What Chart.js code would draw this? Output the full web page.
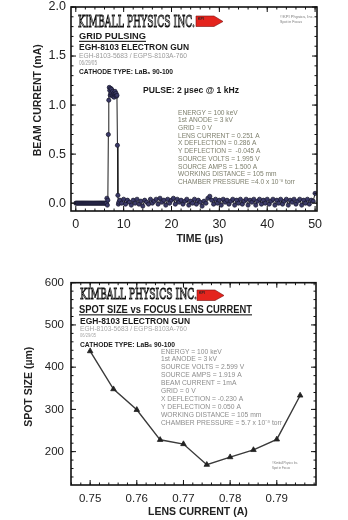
<!DOCTYPE html>
<html>
<head>
<meta charset="utf-8">
<script src="https://cdn.jsdelivr.net/npm/chart.js@4/dist/chart.umd.min.js"></script>
<style>
  html, body { margin: 0; padding: 0; background: #fff; width: 348px; height: 520px; overflow: hidden; }
  .box { position: absolute; left: 0; width: 348px; height: 260px; }
</style>
</head>
<body>
<div class="box" style="top:0"><canvas id="pulse"></canvas></div>
<div class="box" style="top:260px"><canvas id="spot"></canvas></div>
<script>
// ---- datos: pulso de rejilla (tiempo en µs, corriente en mA)
const baselineBefore = [
  [0,0],[0.2,0],[0.4,0],[0.6,0],[0.8,0],[1,0],[1.2,0],[1.4,0],[1.6,0],[1.8,0],[2,0],
  [2.2,0],[2.4,0],[2.6,0],[2.8,0],[3,0],[3.2,0],[3.4,0],[3.6,0],[3.8,0],[4,0],[4.2,0],
  [4.4,0],[4.6,0],[4.8,0],[5,0],[5.2,0],[5.4,0],[5.6,0],[5.8,0],[6,0],[6.2,0],[6.4,0]
];
const pulseSamples = [
  [6.5,0.05],[6.6,-0.02],[6.7,0.03],[6.8,0.70],[6.9,1.05],[7.0,1.18],[7.1,1.15],[7.2,1.10],
  [7.3,1.17],[7.4,1.12],[7.5,1.16],[7.6,1.10],[7.7,1.14],[7.8,1.09],[7.9,1.12],[8.0,1.08],
  [8.1,1.11],[8.2,1.14],[8.3,1.10],[8.4,1.12],[8.5,1.09],[8.6,1.10],[8.7,0.59],[8.8,0.08],
  [8.9,-0.01],[9.0,0.01]
];
const baselineAfter = [
  [9.2,0.03],[9.6,0.00],[10.0,0.04],[10.4,-0.01],[10.8,0.03],[11.2,0.01],[11.6,-0.02],[12.0,0.03],
  [12.4,0.00],[12.8,0.04],[13.2,-0.01],[13.6,0.02],[14.0,-0.03],[14.4,0.03],[14.8,0.01],[15.2,-0.01],
  [15.6,0.04],[16.0,0.00],[16.4,0.02],[16.8,0.04],[17.2,-0.01],[17.6,0.05],[18.0,0.01],[18.4,0.03],
  [18.8,-0.02],[19.2,0.04],[19.6,0.00],[20.0,0.03],[20.4,0.05],[20.8,-0.01],[21.2,0.04],[21.6,0.01],
  [22.0,0.03],[22.4,-0.01],[22.8,0.02],[23.2,0.04],[23.6,-0.02],[24.0,0.02],[24.4,0.00],[24.8,0.04],
  [25.2,-0.01],[25.6,0.03],[26.0,0.01],[26.4,-0.03],[26.8,0.02],[27.2,0.00],[27.6,0.05],[28.0,0.07],
  [28.4,0.03],[28.8,-0.01],[29.2,0.04],[29.6,0.00],[30.0,0.03],[30.4,-0.02],[30.8,0.04],[31.2,0.01],
  [31.6,0.03],[32.0,-0.01],[32.4,0.02],[32.8,0.04],[33.2,-0.02],[33.6,0.03],[34.0,0.00],[34.4,0.04],
  [34.8,-0.01],[35.2,0.02],[35.6,0.04],[36.0,-0.02],[36.4,0.03],[36.8,0.01],[37.2,0.04],[37.6,-0.02],
  [38.0,0.02],[38.4,0.04],[38.8,-0.01],[39.2,0.03],[39.6,0.00],[40.0,0.04],[40.4,-0.01],[40.8,0.02],
  [41.2,0.04],[41.6,-0.02],[42.0,0.03],[42.4,0.00],[42.8,0.04],[43.2,-0.01],[43.6,0.02],[44.0,0.04],
  [44.4,-0.02],[44.8,0.03],[45.2,0.01],[45.6,0.04],[46.0,-0.01],[46.4,0.02],[46.8,0.04],[47.2,-0.02],
  [47.6,0.03],[48.0,0.00],[48.4,0.04],[48.8,-0.01],[49.2,0.03],[49.6,0.02],[50.0,0.10]
];
const timeTicks = [0, 10, 20, 30, 40, 50];
const currentTicks = [0, 0.5, 1.0, 1.5, 2.0];

// ---- datos: tamaño de spot vs corriente de lente
const lensCurrent = [0.750, 0.755, 0.760, 0.765, 0.770, 0.775, 0.780, 0.785, 0.790, 0.795];
const spotSize = [438, 348, 299, 228, 218, 169, 187, 204, 229, 333];
const lensTicks = [0.75, 0.76, 0.77, 0.78, 0.79];
const spotTicks = [200, 300, 400, 500, 600];

const FONT = '"Liberation Sans", Arial, sans-serif';

// textos de la placa (posiciones en px del canvas)
const pulseNotes = [
  {t: 'GRID PULSING', x: 79, y: 39, size: 9.8, w: 67, bold: true, underline: true},
  {t: 'EGH-8103 ELECTRON GUN', x: 79, y: 49.5, size: 9, w: 110, bold: true},
  {t: 'EGH-8103-5683 / EGPS-8103A-760', x: 79, y: 58, size: 7.5, w: 108, color: '#9a9a9a'},
  {t: '06/29/05', x: 79, y: 64.5, size: 7, w: 18, color: '#9a9a9a'},
  {t: 'CATHODE TYPE: LaB\u2086 90-100', x: 79, y: 73.5, size: 7.5, w: 94, bold: true},
  {t: 'PULSE: 2 \u00b5sec @ 1 kHz', x: 143, y: 93, size: 9.8, w: 96, bold: true},
  {t: '\u00a9KPI Physics, Inc.', x: 280, y: 18, size: 3.6, w: 34, color: '#777'},
  {t: 'Spot in Focus', x: 280, y: 22.5, size: 3.6, w: 22, color: '#777'}
];
const pulseParams = {
  x: 178, y: 114.5, dy: 7.74, size: 6.8, w: 117, color: '#7f806e',
  lines: ['ENERGY = 100 keV', '1st ANODE = 3 kV', 'GRID = 0 V', 'LENS CURRENT = 0.251 A',
    'X DEFLECTION = 0.286 A', 'Y DEFLECTION =  -0.045 A', 'SOURCE VOLTS = 1.995 V',
    'SOURCE AMPS = 1.500 A', 'WORKING DISTANCE = 105 mm', 'CHAMBER PRESSURE =4.0 x 10\u207b\u2078 torr']
};
const spotNotes = [
  {t: 'SPOT SIZE vs FOCUS LENS CURRENT', x: 79, y: 52.5, size: 11.5, w: 173, bold: true, underline: true},
  {t: 'EGH-8103 ELECTRON GUN', x: 80, y: 63.5, size: 9.5, w: 110, bold: true},
  {t: 'EGH-8103-5683 / EGPS-8103A-760', x: 80, y: 70.5, size: 6.5, w: 107, color: '#a8a8a8'},
  {t: '06/29/05', x: 80, y: 76.5, size: 6, w: 16, color: '#a8a8a8'},
  {t: 'CATHODE TYPE: LaB\u2086 90-100', x: 80, y: 87, size: 8, w: 95, bold: true},
  {t: '\u00a9Kimball Physics Inc.', x: 272, y: 204, size: 3.6, w: 26, color: '#777'},
  {t: 'Spot in Focus', x: 272, y: 209, size: 3.6, w: 18, color: '#777'}
];
const spotParams = {
  x: 161, y: 93.5, dy: 7.9, size: 7, w: 121, color: '#8d8d8d',
  lines: ['ENERGY = 100 keV', '1st ANODE = 3 kV', 'SOURCE VOLTS = 2.599 V', 'SOURCE AMPS = 1.919 A',
    'BEAM CURRENT = 1mA', 'GRID = 0 V', 'X DEFLECTION = -0.230 A', 'Y DEFLECTION = 0.050 A',
    'WORKING DISTANCE = 105 mm', 'CHAMBER PRESSURE = 5.7 x 10\u207b\u2078 torr']
};

function drawLabel(ctx, it, sx) {
  ctx.save();
  ctx.font = (it.bold ? 'bold ' : '') + it.size + 'px ' + FONT;
  const w = ctx.measureText(it.t).width;
  const k = sx || (it.w ? it.w / w : 1);
  ctx.translate(it.x, it.y);
  ctx.scale(k, 1);
  ctx.fillStyle = it.color || '#1a1a1a';
  ctx.fillText(it.t, 0, 0);
  if (it.underline) ctx.fillRect(0, 1.8, w, 1.1);
  ctx.restore();
}

function drawLogo(ctx, x, yBase, w, size, ax, ay) {
  ctx.save();
  ctx.font = size + 'px "DejaVu Serif", serif';
  const txt = 'KIMBALL PHYSICS INC.';
  const m = ctx.measureText(txt).width;
  ctx.translate(x, yBase);
  ctx.scale(w / m, 1);
  ctx.fillStyle = '#fff';
  ctx.fillText(txt, 0, 0);
  ctx.strokeStyle = '#111';
  ctx.lineWidth = 1;
  ctx.strokeText(txt, 0, 0);
  ctx.restore();
  // flecha roja del logo
  ctx.save();
  ctx.beginPath();
  ctx.moveTo(ax, ay);
  ctx.lineTo(ax + 18, ay);
  ctx.lineTo(ax + 27, ay + 5.5);
  ctx.lineTo(ax + 18, ay + 10.5);
  ctx.lineTo(ax, ay + 10.5);
  ctx.closePath();
  ctx.fillStyle = '#e4241d';
  ctx.fill();
  ctx.strokeStyle = '#7a1010';
  ctx.lineWidth = 0.6;
  ctx.stroke();
  ctx.fillStyle = '#222';
  ctx.font = 'bold 3.5px ' + FONT;
  ctx.fillText('KPI', ax + 2, ay + 4);
  ctx.restore();
}

function drawParams(ctx, p) {
  ctx.save();
  ctx.font = p.size + 'px ' + FONT;
  const longest = ctx.measureText(p.lines[p.lines.length - 1]).width;
  const k = p.w / longest;
  ctx.restore();
  p.lines.forEach((line, i) => {
    drawLabel(ctx, {t: line, x: p.x, y: p.y + i * p.dy, size: p.size, color: p.color}, k);
  });
}

// marco con marcas interiores en los cuatro lados
const framePlugin = {
  id: 'frame',
  afterDatasetsDraw(chart, args, opts) {
    const {ctx, chartArea: a, scales: {x, y}} = chart;
    ctx.save();
    ctx.strokeStyle = '#111';
    ctx.lineWidth = 1;
    const each = (scale, step, fn) => {
      const k0 = Math.ceil(scale.min / step - 1e-6);
      const k1 = Math.floor(scale.max / step + 1e-6);
      for (let k = k0; k <= k1; k++) fn(scale.getPixelForValue(k * step));
    };
    ctx.beginPath();
    [[opts.xMinor, 2.5], [opts.xMajor, 5]].forEach(([step, len]) => each(x, step, px => {
      ctx.moveTo(px, a.bottom); ctx.lineTo(px, a.bottom - len);
      ctx.moveTo(px, a.top); ctx.lineTo(px, a.top + len);
    }));
    [[opts.yMinor, 2.5], [opts.yMajor, 5]].forEach(([step, len]) => each(y, step, py => {
      ctx.moveTo(a.left, py); ctx.lineTo(a.left + len, py);
      ctx.moveTo(a.right, py); ctx.lineTo(a.right - len, py);
    }));
    ctx.stroke();
    ctx.lineWidth = 1.6;
    ctx.strokeRect(a.left, a.top, a.right - a.left, a.bottom - a.top);
    ctx.restore();
  }
};

function axis(opts) {
  return {
    type: 'linear',
    min: opts.min,
    max: opts.max,
    grid: {display: false, drawTicks: false},
    border: {display: false},
    afterBuildTicks: s => { s.ticks = opts.ticks.map(v => ({value: v})); },
    afterFit: s => {
      if (opts.height) s.height = opts.height;
      if (opts.width) s.width = opts.width;
      s.paddingTop = 0; s.paddingBottom = 0; s.paddingLeft = 0; s.paddingRight = 0;
    },
    ticks: {
      padding: opts.pad, color: '#222', autoSkip: false, maxRotation: 0,
      font: {size: opts.tickSize, family: FONT},
      callback: opts.fmt
    },
    title: {
      display: true, text: opts.title, color: '#222',
      font: {size: 10.5, weight: 'bold', family: FONT},
      padding: opts.titlePad
    }
  };
}

Chart.defaults.animation = false;

new Chart(document.getElementById('pulse'), {
  type: 'line',
  data: {
    datasets: [{
      data: [...baselineBefore, ...pulseSamples, ...baselineAfter].map(([t, v]) => ({x: t, y: v})),
      borderColor: '#1c1c1c',
      borderWidth: 1,
      pointRadius: 2.1,
      pointBackgroundColor: '#3b3a68',
      pointBorderColor: '#15152a',
      pointBorderWidth: 0.7,
      tension: 0
    }]
  },
  options: {
    responsive: true,
    maintainAspectRatio: false,
    devicePixelRatio: 1,
    layout: {padding: {left: 0, top: 7, right: 31, bottom: 0}},
    plugins: {
      legend: {display: false},
      tooltip: {enabled: false},
      frame: {xMajor: 10, xMinor: 2, yMajor: 0.5, yMinor: 0.1}
    },
    scales: {
      x: axis({min: -1, max: 50.4, ticks: timeTicks, height: 49, pad: 6, tickSize: 12.5,
        fmt: v => String(v), title: '    TIME (\u00b5s)', titlePad: {top: 0, bottom: 14.7}}),
      y: axis({min: -0.08, max: 2.0, ticks: currentTicks, width: 71, pad: 5, tickSize: 12.5,
        fmt: v => v.toFixed(1), title: '      BEAM CURRENT (mA)', titlePad: {top: 31.4, bottom: 0}})
    }
  },
  plugins: [framePlugin, {
    id: 'notes',
    beforeDatasetsDraw(chart) {
      const ctx = chart.ctx;
      drawLogo(ctx, 78, 27, 117, 16, 196, 16);
      pulseNotes.forEach(n => drawLabel(ctx, n));
      drawParams(ctx, pulseParams);
    }
  }]
});

new Chart(document.getElementById('spot'), {
  type: 'line',
  data: {
    datasets: [{
      data: lensCurrent.map((c, i) => ({x: c, y: spotSize[i]})),
      borderColor: '#3a3a3a',
      borderWidth: 1.4,
      pointStyle: 'triangle',
      pointRadius: 3.2,
      pointBackgroundColor: '#222',
      pointBorderColor: '#222',
      pointBorderWidth: 0.8,
      tension: 0
    }]
  },
  options: {
    responsive: true,
    maintainAspectRatio: false,
    devicePixelRatio: 1,
    layout: {padding: {left: 0, top: 22.7, right: 32, bottom: 0}},
    plugins: {
      legend: {display: false},
      tooltip: {enabled: false},
      frame: {xMajor: 0.01, xMinor: 0.002, yMajor: 100, yMinor: 20}
    },
    scales: {
      x: axis({min: 0.7459, max: 0.7984, ticks: lensTicks, height: 35, pad: 7, tickSize: 11.5,
        fmt: v => v.toFixed(2), title: '   LENS CURRENT (A)', titlePad: {top: 0, bottom: 1.7}}),
      y: axis({min: 121, max: 600, ticks: spotTicks, width: 71, pad: 7, tickSize: 11.5,
        fmt: v => String(v), title: 'SPOT SIZE (\u00b5m)  ', titlePad: {top: 22.7, bottom: 0}})
    }
  },
  plugins: [framePlugin, {
    id: 'notes',
    beforeDatasetsDraw(chart) {
      const ctx = chart.ctx;
      drawLogo(ctx, 80, 39, 117, 15, 197, 30);
      spotNotes.forEach(n => drawLabel(ctx, n));
      drawParams(ctx, spotParams);
    }
  }]
});
</script>
</body>
</html>
